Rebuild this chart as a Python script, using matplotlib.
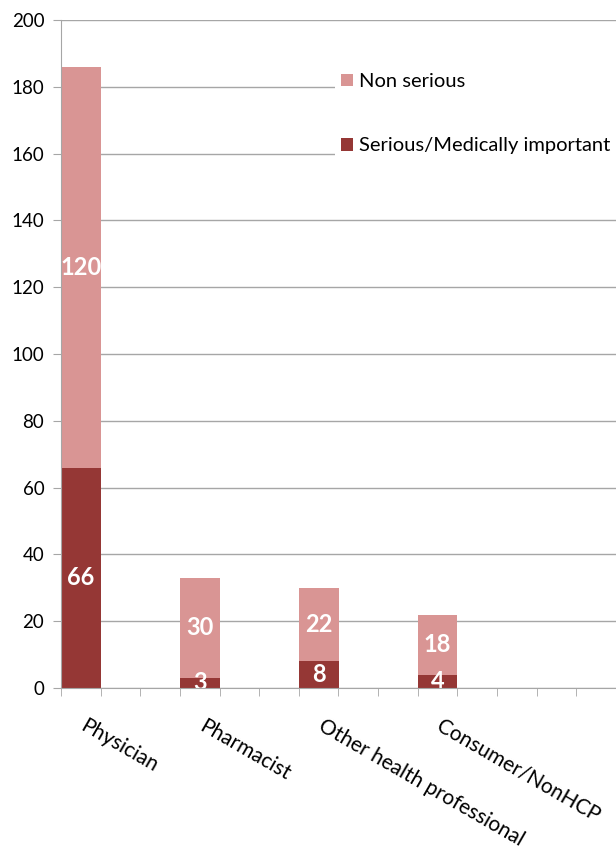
import numpy as np
import matplotlib
matplotlib.use("Agg")
import matplotlib.pyplot as plt

plt.rcParams['font.family'] = ['Lato', 'DejaVu Sans']

categories = ["Physician", "Pharmacist", "Other health professional", "Consumer/NonHCP"]
serious = [66, 3, 8, 4]
non_serious = [120, 30, 22, 18]

light = "#d99594"
dark = "#953735"
grid_col = "#a6a6a6"

fig = plt.figure(figsize=(6.16, 8.5), dpi=100)
ax = fig.add_axes([61 / 616, 162 / 850, 1 - 61 / 616, (688 - 20) / 850])

# every category sits in its own slot with two empty slots after it
x = np.arange(len(categories)) * 3
b1 = ax.bar(x, serious, width=1.0, color=dark, label="Serious/Medically important", zorder=3)
b2 = ax.bar(x, non_serious, width=1.0, bottom=serious, color=light, label="Non serious", zorder=3)

for bars in (b1, b2):
    ax.bar_label(bars, label_type="center", color="white", fontsize=17,
                 fontweight="bold", zorder=4)

ax.set_ylim(0, 200)
ax.set_yticks(np.arange(0, 201, 20))
ax.set_xlim(-0.5, 13.2)
ax.set_xticks([])
ax.set_xticks(np.arange(-0.5, 14, 1), minor=True)
ax.tick_params(axis="x", which="minor", length=6, color=grid_col, direction="out")
ax.tick_params(axis="y", length=6, color=grid_col, labelsize=13.5, pad=6)

# rotated category labels, hanging from the bar centres
for xi, name in zip(x, categories):
    ax.annotate(name, xy=(xi, 0), xycoords=("data", "axes fraction"),
                xytext=(6, -28), textcoords="offset pixels",
                rotation=-30, rotation_mode="anchor", ha="left", va="top",
                fontsize=15, annotation_clip=False)

ax.yaxis.grid(True, color=grid_col, linewidth=1, zorder=0)
ax.set_axisbelow(True)
for s in ("top", "right"):
    ax.spines[s].set_visible(False)
for s in ("left", "bottom"):
    ax.spines[s].set_color(grid_col)
    ax.spines[s].set_zorder(5)

handles, labels = ax.get_legend_handles_labels()
leg = fig.legend(handles[::-1], labels[::-1], loc="upper left",
                 bbox_to_anchor=(335 / 616, 1 - 67 / 850), fontsize=14.5,
                 frameon=True, facecolor="white", edgecolor="none", framealpha=1,
                 fancybox=False, handlelength=0.6, handleheight=0.6,
                 handletextpad=0.3, labelspacing=2.35, borderpad=0.3,
                 borderaxespad=0)

fig.savefig("out.png", dpi=100)
